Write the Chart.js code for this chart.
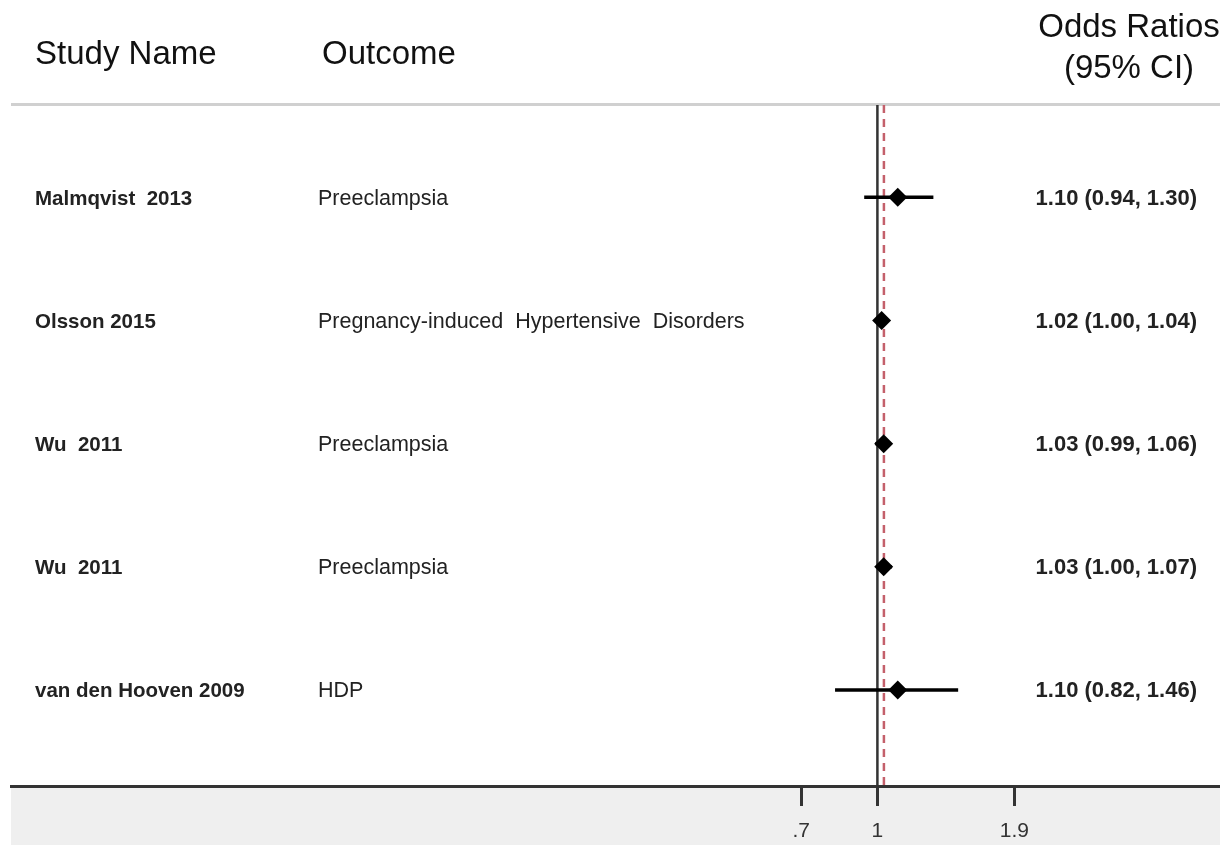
<!DOCTYPE html>
<html lang="en">
<head>
    <meta charset="UTF-8">
    <title>Forest Plot</title>
    <script src="https://cdn.jsdelivr.net/npm/chart.js@4.4.0/dist/chart.umd.min.js"></script>
    <style>
        * {
            margin: 0;
            padding: 0;
            box-sizing: border-box;
        }

        body {
            background: #ffffff;
            width: 1220px;
            height: 845px;
            overflow: hidden;
        }

        .chart-wrapper {
            position: relative;
            width: 1220px;
            height: 845px;
        }
    </style>
</head>
<body>
    <div class="chart-wrapper">
        <canvas id="forestChart"></canvas>
    </div>

    <script>
        // data
        const studies = ['Malmqvist  2013', 'Olsson 2015', 'Wu  2011', 'Wu  2011', 'van den Hooven 2009'];
        const outcomes = ['Preeclampsia', 'Pregnancy-induced  Hypertensive  Disorders', 'Preeclampsia', 'Preeclampsia', 'HDP'];
        const oddsRatios = [1.10, 1.02, 1.03, 1.03, 1.10];
        const lowerCI = [0.94, 1.00, 0.99, 1.00, 0.82];
        const upperCI = [1.30, 1.04, 1.06, 1.07, 1.46];
        const tickValues = [0.7, 1, 1.9];
        const tickLabels = ['.7', '1', '1.9'];
        const nullLine = 1;
        const pooledLine = 1.031;

        const FONT = '"Liberation Sans", Arial, sans-serif';
        const rows = studies.map((s, i) => i + 1);
        const yMin = 0.25, yMax = 5.78;

        const datasets = [];

        // diamonds
        datasets.push({
            type: 'scatter',
            data: oddsRatios.map((v, i) => ({ x: v, y: rows[i] })),
            pointStyle: 'rectRot',
            pointRadius: 9.5,
            pointHoverRadius: 9.5,
            backgroundColor: '#000',
            borderColor: '#000',
            borderWidth: 0,
            order: 0
        });

        // confidence intervals
        rows.forEach((r, i) => {
            datasets.push({
                type: 'line',
                data: [{ x: lowerCI[i], y: r }, { x: upperCI[i], y: r }],
                borderColor: '#000',
                borderWidth: 3.5,
                pointRadius: 0,
                order: 1
            });
        });

        // reference lines
        datasets.push({
            type: 'line',
            data: [{ x: nullLine, y: yMin }, { x: nullLine, y: yMax }],
            borderColor: '#333',
            borderWidth: 2.5,
            pointRadius: 0,
            order: 3
        });
        datasets.push({
            type: 'line',
            data: [{ x: pooledLine, y: yMin }, { x: pooledLine, y: yMax }],
            borderColor: '#c4606b',
            borderWidth: 2.5,
            borderDash: [8, 6],
            pointRadius: 0,
            order: 2
        });

        const backdrop = {
            id: 'backdrop',
            beforeDraw(chart) {
                const ctx = chart.ctx;
                const area = chart.chartArea;
                ctx.save();
                ctx.fillStyle = '#efefef';
                ctx.fillRect(area.left, area.bottom, chart.width - area.left, chart.height - area.bottom);
                ctx.fillStyle = '#d0d0d0';
                ctx.fillRect(area.left, area.top - 2, chart.width - area.left, 3);
                ctx.restore();
            }
        };

        const labels = {
            id: 'labels',
            afterDraw(chart) {
                const ctx = chart.ctx;
                const yScale = chart.scales.y;
                ctx.save();

                // headers
                ctx.fillStyle = '#111';
                ctx.font = '33px ' + FONT;
                ctx.textAlign = 'left';
                ctx.textBaseline = 'alphabetic';
                ctx.fillText('Study Name', 35, 64);
                ctx.fillText('Outcome', 322, 64);
                ctx.textAlign = 'center';
                ctx.fillText('Odds Ratios', 1129, 37);
                ctx.fillText('(95% CI)', 1129, 78);

                // rows
                ctx.fillStyle = '#222';
                rows.forEach((r, i) => {
                    const y = yScale.getPixelForValue(r) + 7.5;
                    ctx.textAlign = 'left';
                    ctx.font = 'bold 20.5px ' + FONT;
                    ctx.fillText(studies[i], 35, y);
                    ctx.font = '21.5px ' + FONT;
                    ctx.fillText(outcomes[i], 318, y);
                    ctx.textAlign = 'right';
                    ctx.font = 'bold 22px ' + FONT;
                    const txt = oddsRatios[i].toFixed(2) + ' (' + lowerCI[i].toFixed(2) + ', ' + upperCI[i].toFixed(2) + ')';
                    ctx.fillText(txt, 1197, y);
                });
                ctx.restore();
            }
        };

        new Chart(document.getElementById('forestChart'), {
            data: { datasets: datasets },
            options: {
                responsive: true,
                maintainAspectRatio: false,
                animation: false,
                events: [],
                layout: {
                    autoPadding: false,
                    padding: { top: 105, left: 11, right: 0, bottom: 0 }
                },
                plugins: {
                    legend: { display: false },
                    tooltip: { enabled: false }
                },
                scales: {
                    x: {
                        type: 'logarithmic',
                        min: 0.01725,
                        max: 4.98,
                        afterBuildTicks(scale) {
                            scale.ticks = tickValues.map(v => ({ value: v }));
                        },
                        afterFit(scale) {
                            scale.height = 59;
                        },
                        grid: {
                            drawOnChartArea: false,
                            drawTicks: true,
                            tickLength: 20,
                            tickWidth: 3,
                            tickColor: '#333'
                        },
                        border: { display: true, color: '#333', width: 3 },
                        ticks: {
                            autoSkip: false,
                            maxRotation: 0,
                            padding: 13,
                            color: '#333',
                            font: { family: FONT, size: 21 },
                            callback(value) {
                                const i = tickValues.indexOf(value);
                                return i >= 0 ? tickLabels[i] : '';
                            }
                        }
                    },
                    y: {
                        type: 'linear',
                        display: false,
                        reverse: true,
                        min: yMin,
                        max: yMax
                    }
                }
            },
            plugins: [backdrop, labels]
        });
    </script>
</body>
</html>
